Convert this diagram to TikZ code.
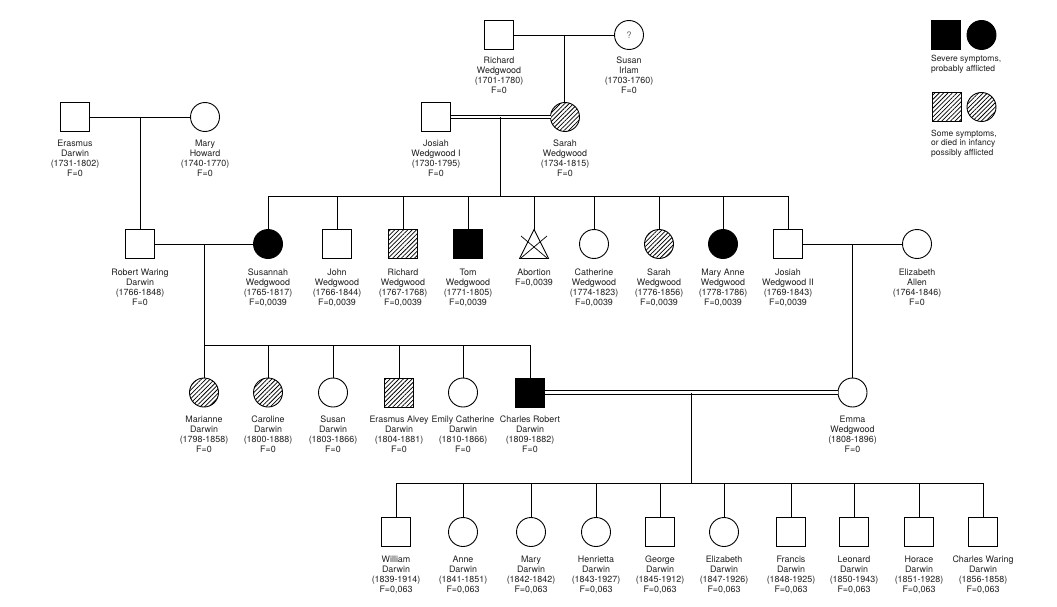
\documentclass[tikz,border=0pt]{standalone}
\usepackage{fontspec}
\setmainfont{TeX Gyre Heros}
\usetikzlibrary{calc,patterns.meta}
\tikzset{
  base/.style={draw, line width=0.9pt, minimum size=29pt, inner sep=0pt, outer sep=0pt},
  male/.style={base, rectangle},
  female/.style={base, circle},
  aff/.style={fill=black},
  hat/.style={pattern={Lines[angle=45,distance=3.1pt,line width=0.75pt]}},
  lab/.style={font=\fontsize{8.9}{10}\selectfont, align=center, inner sep=0pt, anchor=north, text=black!88},
  legtext/.style={font=\fontsize{8.5}{9.6}\selectfont, align=left, inner sep=0pt, anchor=north west, text=black!88},
  conn/.style={line width=0.9pt},
  dbl/.style={double, double distance=2.6pt, line width=0.8pt},
}
\newcommand{\labgap}{9pt}
\newcommand{\pers}[6][]{\node[#3] (#2) at (#4,#5) {#1};
  \node[lab] (#2-l) at ([yshift=-\labgap]#2.south) {#6};}
\begin{document}
\begin{tikzpicture}[x=1pt,y=-1pt]
\useasboundingbox (0,0) rectangle (1057,607);
% ---------- generation 0
\renewcommand{\labgap}{7.5pt}
\pers{RW}{male}{499}{35}{Richard\\Wedgwood\\(1701-1780)\\F=0}
\pers[\color{black!60}\fontsize{9}{9}\selectfont ?]{SI}{female}{629}{35}{Susan\\Irlam\\(1703-1760)\\F=0}
% ---------- generation 1
\renewcommand{\labgap}{8pt}
\pers{ED}{male}{75}{117}{Erasmus\\Darwin\\(1731-1802)\\F=0}
\pers{MH}{female}{205}{117}{Mary\\Howard\\(1740-1770)\\F=0}
\pers{JWa}{male}{436}{117}{Josiah\\Wedgwood I\\(1730-1795)\\F=0}
\pers{SW}{female,hat}{565}{117}{Sarah\\Wedgwood\\(1734-1815)\\F=0}
% ---------- generation 2
\renewcommand{\labgap}{10pt}
\pers{RD}{male}{140}{244}{Robert Waring\\Darwin\\(1766-1848)\\F=0}
\pers{SuW}{female,aff}{268}{244}{Susannah\\Wedgwood\\(1765-1817)\\F=0,0039}
\pers{JoW}{male}{337}{244}{John\\Wedgwood\\(1766-1844)\\F=0,0039}
\pers{RiW}{male,hat}{403}{244}{Richard\\Wedgwood\\(1767-1768)\\F=0,0039}
\pers{TW}{male,aff}{468}{244}{Tom\\Wedgwood\\(1771-1805)\\F=0,0039}
\pers{Ab}{base,draw=none}{534}{244}{Abortion\\F=0,0039}
\pers{CW}{female}{594}{244}{Catherine\\Wedgwood\\(1774-1823)\\F=0,0039}
\pers{SaW}{female,hat}{659}{244}{Sarah\\Wedgwood\\(1776-1856)\\F=0,0039}
\pers{MAW}{female,aff}{723}{244}{Mary Anne\\Wedgwood\\(1778-1786)\\F=0,0039}
\pers{JWb}{male}{788}{244}{Josiah\\Wedgwood II\\(1769-1843)\\F=0,0039}
\pers{EA}{female}{917}{244}{Elizabeth\\Allen\\(1764-1846)\\F=0}
% abortion symbol
\draw[conn] (Ab.north) -- (Ab.south west) -- (Ab.south east) -- cycle;
\draw[line width=0.7pt] ($(Ab)+(-13,-8)$) -- ($(Ab)+(13,14)$);
\draw[line width=0.7pt] ($(Ab)+(13,-8)$) -- ($(Ab)+(-13,14)$);
% ---------- generation 3
\renewcommand{\labgap}{8.5pt}
\pers{MD}{female,hat}{204}{392.5}{Marianne\\Darwin\\(1798-1858)\\F=0}
\pers{CaD}{female,hat}{268}{392.5}{Caroline\\Darwin\\(1800-1888)\\F=0}
\pers{SD}{female}{333}{392.5}{Susan\\Darwin\\(1803-1866)\\F=0}
\pers{EAD}{male,hat}{399}{392.5}{Erasmus Alvey\\Darwin\\(1804-1881)\\F=0}
\pers{ECD}{female}{463}{392.5}{Emily Catherine\\Darwin\\(1810-1866)\\F=0}
\pers{CRD}{male,aff}{530}{392.5}{Charles Robert\\Darwin\\(1809-1882)\\F=0}
\pers{EW}{female}{852.5}{392.5}{Emma\\Wedgwood\\(1808-1896)\\F=0}
% ---------- generation 4
\renewcommand{\labgap}{9pt}
\pers{WD}{male}{396}{532}{William\\Darwin\\(1839-1914)\\F=0,063}
\pers{AD}{female}{463}{532}{Anne\\Darwin\\(1841-1851)\\F=0,063}
\pers{MaD}{female}{531}{532}{Mary\\Darwin\\(1842-1842)\\F=0,063}
\pers{HD}{female}{596}{532}{Henrietta\\Darwin\\(1843-1927)\\F=0,063}
\pers{GD}{male}{660}{532}{George\\Darwin\\(1845-1912)\\F=0,063}
\pers{ElD}{female}{724}{532}{Elizabeth\\Darwin\\(1847-1926)\\F=0,063}
\pers{FD}{male}{791}{532}{Francis\\Darwin\\(1848-1925)\\F=0,063}
\pers{LD}{male}{854}{532}{Leonard\\Darwin\\(1850-1943)\\F=0,063}
\pers{HoD}{male}{919}{532}{Horace\\Darwin\\(1851-1928)\\F=0,063}
\pers{CWD}{male}{983}{532}{Charles Waring\\Darwin\\(1856-1858)\\F=0,063}
% ---------- unions and descent
\draw[conn] (RW) -- (SI);
\coordinate (u0) at ($(RW)!.5!(SI)$);
\draw[conn] (u0) -- (u0 |- SW.north);
\draw[conn] (ED) -- (MH);
\coordinate (u1) at ($(ED)!.5!(MH)$);
\draw[conn] (u1) -- (u1 |- RD.north);
\draw[dbl] (JWa) -- (SW);
\coordinate (u2) at ($(JWa)!.5!(SW)$);
\coordinate (s2) at (u2 |- 0,196);
\draw[conn] (u2) -- (s2);
\draw[conn] (SuW.north |- s2) -- (JWb.north |- s2);
\foreach \c in {SuW,JoW,RiW,TW,Ab,CW,SaW,MAW,JWb} \draw[conn] (\c.north) -- (\c.north |- s2);
\draw[conn] (RD) -- (SuW);
\coordinate (u3) at ($(RD)!.5!(SuW)$);
\coordinate (s3) at (u3 |- 0,345);
\draw[conn] (u3) -- (s3);
\draw[conn] (MD.north |- s3) -- (CRD.north |- s3);
\foreach \c in {MD,CaD,SD,EAD,ECD,CRD} \draw[conn] (\c.north) -- (\c.north |- s3);
\draw[conn] (JWb) -- (EA);
\coordinate (u4) at ($(JWb)!.5!(EA)$);
\draw[conn] (u4) -- (u4 |- EW.north);
\draw[dbl] (CRD) -- (EW);
\coordinate (u5) at ($(CRD)!.5!(EW)$);
\coordinate (s5) at (u5 |- 0,483);
\draw[conn] (u5) -- (s5);
\draw[conn] (WD.north |- s5) -- (CWD.north |- s5);
\foreach \c in {WD,AD,MaD,HD,GD,ElD,FD,LD,HoD,CWD} \draw[conn] (\c.north) -- (\c.north |- s5);
% ---------- legend
\node[male,aff] (L1s) at (946,35) {};
\node[female,aff] (L1c) at (981.5,35) {};
\node[legtext] (L1t) at (931,55) {Severe symptoms,\\probably afflicted};
\node[male,hat] (L2s) at (946.5,107) {};
\node[female,hat] (L2c) at (981.5,107) {};
\node[legtext] (L2t) at (931,129.5) {Some symptoms,\\or died in infancy\\possibly afflicted};
\end{tikzpicture}
\end{document}
